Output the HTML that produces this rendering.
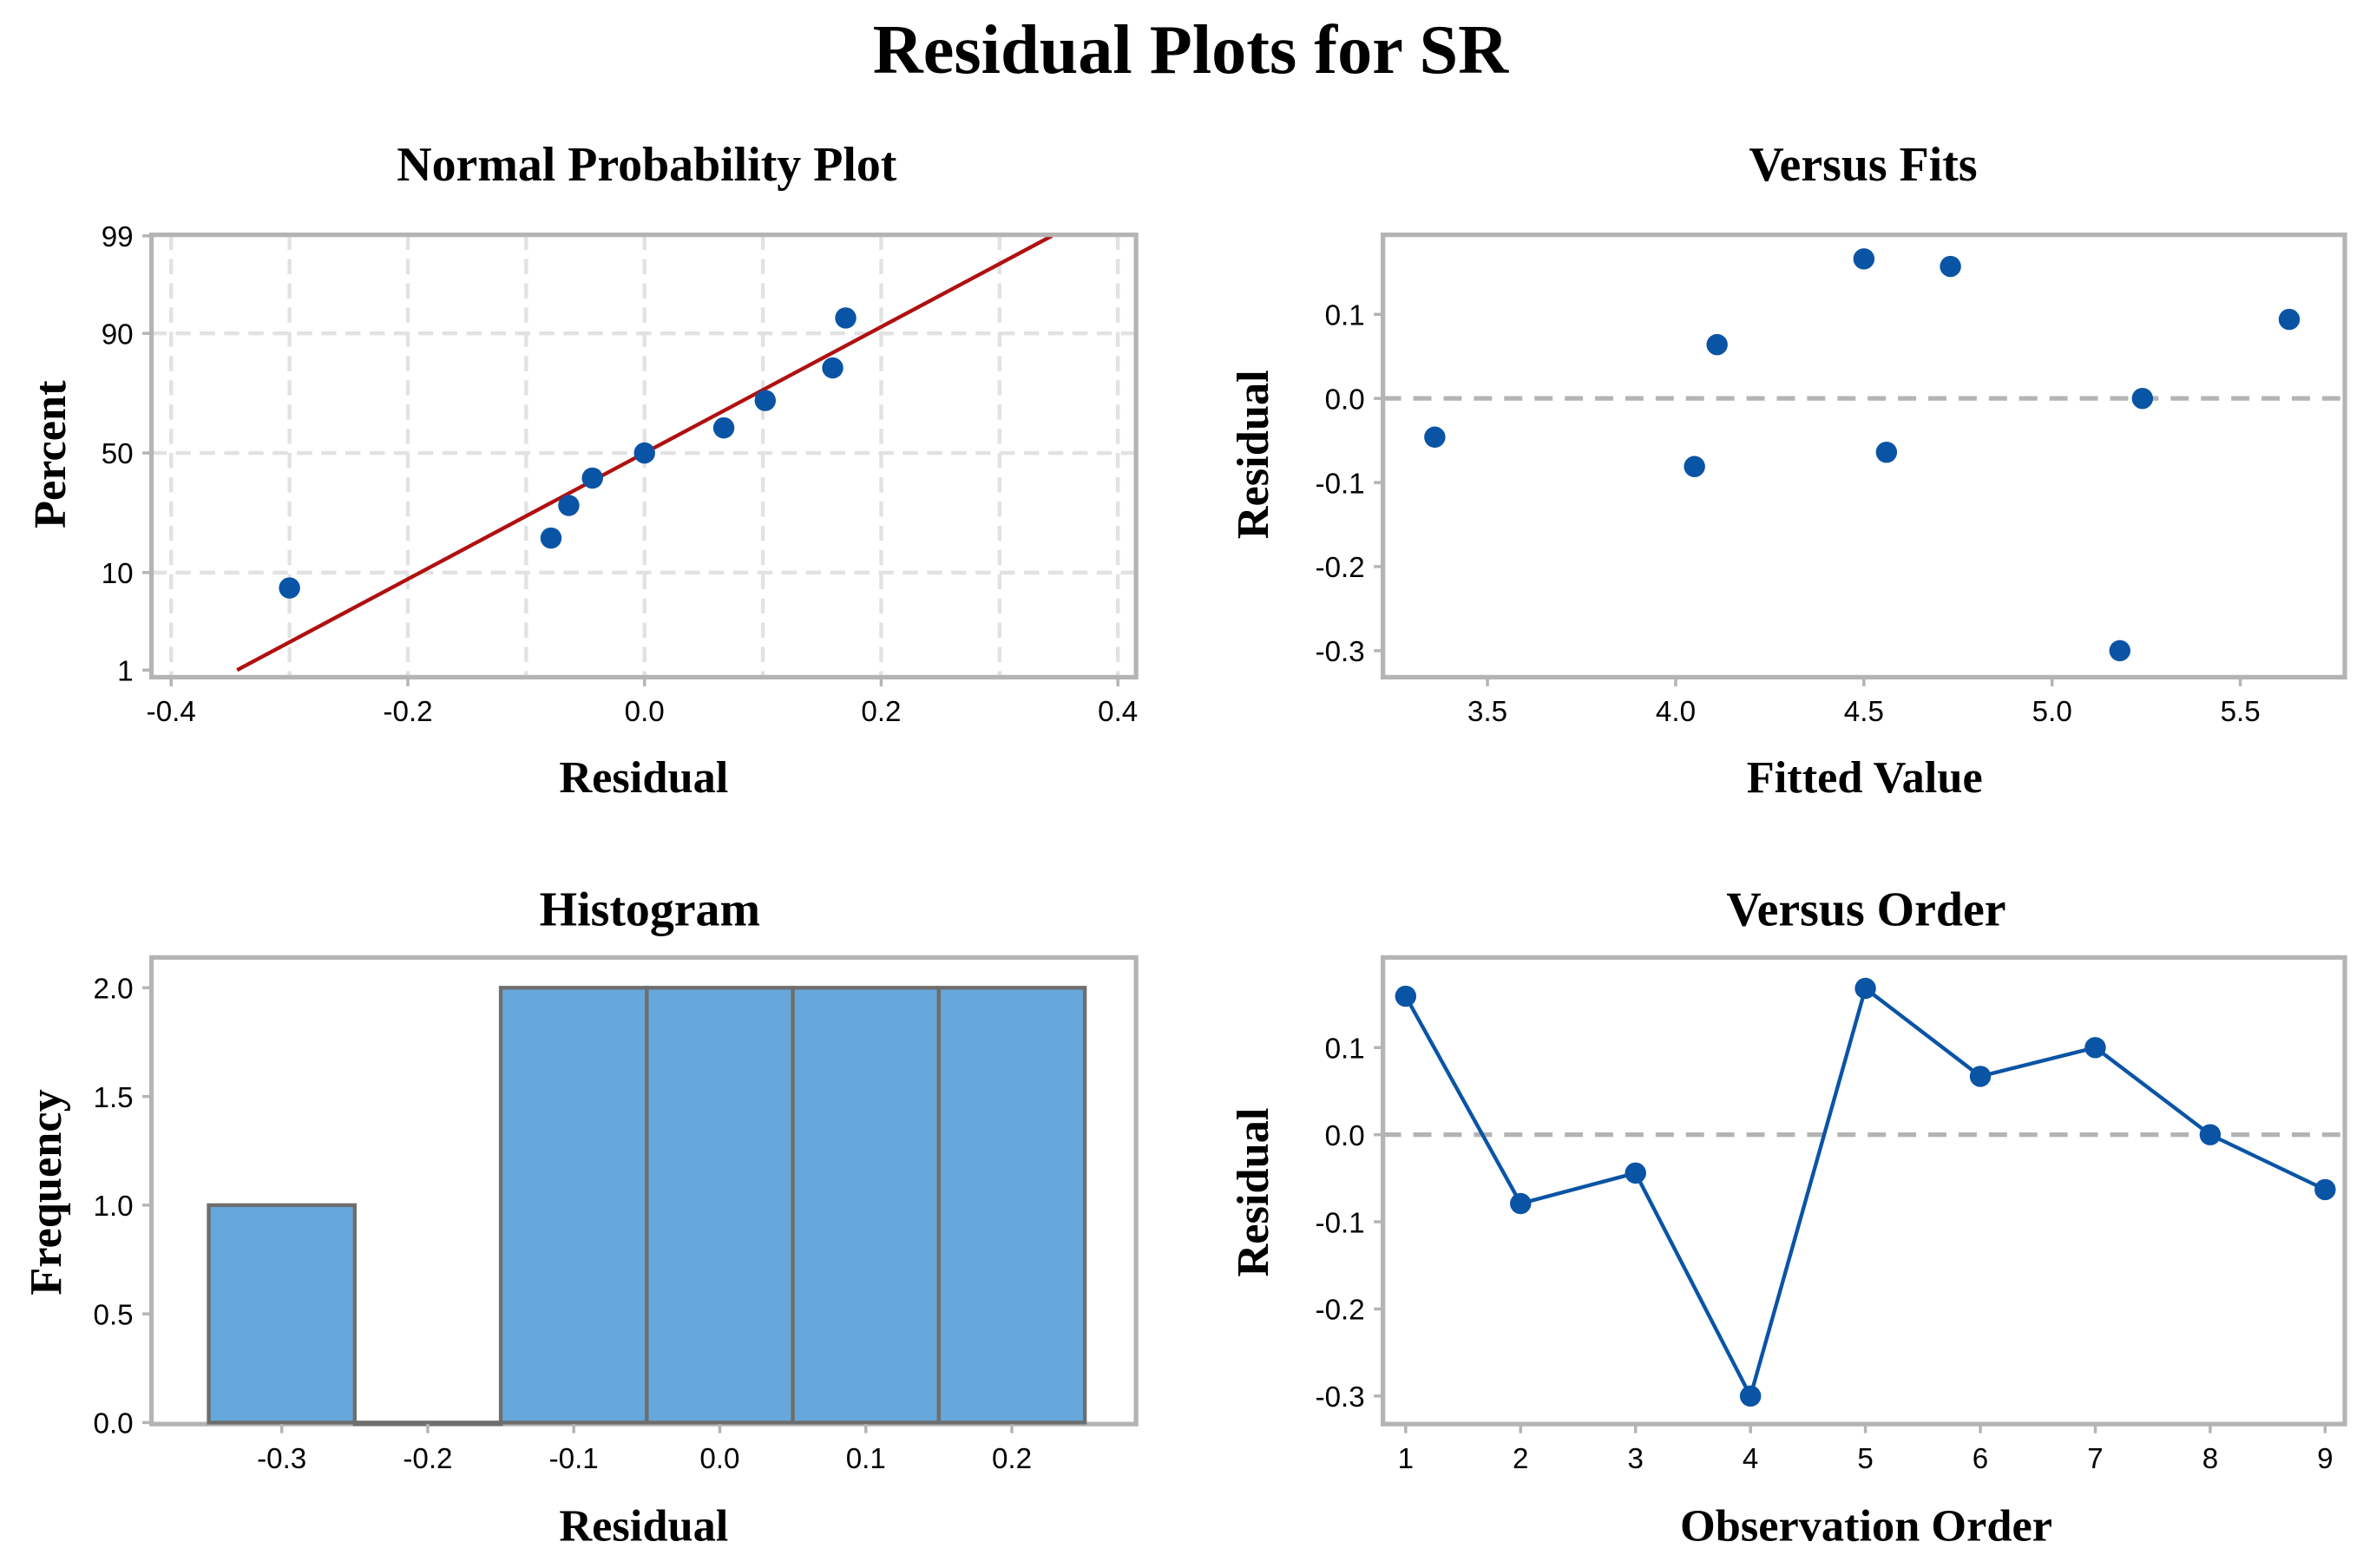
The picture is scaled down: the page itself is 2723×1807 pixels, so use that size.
<!DOCTYPE html>
<html><head><meta charset="utf-8"><style>
html,body{margin:0;padding:0;background:#fff;}
svg{display:block;}
.t{font-family:"Liberation Serif",serif;font-weight:bold;fill:#000;}
.k{font-family:"Liberation Sans",sans-serif;font-size:19px;fill:#000;}
</style></head><body>
<svg id="c" width="2723" height="1807" viewBox="0 0 1560 1035" preserveAspectRatio="none" xmlns="http://www.w3.org/2000/svg">
<text class="t" x="786" y="48" font-size="46" text-anchor="middle">Residual Plots for SR</text>
</svg>
<script>
// ---- data ----
const nppResiduals = [-0.30, -0.079, -0.064, -0.044, 0.0, 0.067, 0.102, 0.159, 0.170];
const nppPercents = [7.4, 18.1, 28.7, 39.4, 50, 60.6, 71.3, 81.9, 92.6];
const nppFitMean = 0.0;
const nppFitSd = 0.148;
const nppXTicks = [-0.4, -0.2, 0.0, 0.2, 0.4];
const nppXGrid = [-0.4, -0.3, -0.2, -0.1, 0.0, 0.1, 0.2, 0.3, 0.4];
const nppYTicks = [1, 10, 50, 90, 99];
const fitsX = [3.36, 4.05, 4.11, 4.50, 4.56, 4.73, 5.18, 5.24, 5.63];
const fitsY = [-0.046, -0.081, 0.064, 0.166, -0.064, 0.157, -0.30, 0.0, 0.094];
const fitsXTicks = [3.5, 4.0, 4.5, 5.0, 5.5];
const residTicks = [0.1, 0.0, -0.1, -0.2, -0.3];
const histBinStarts = [-0.35, -0.25, -0.15, -0.05, 0.05, 0.15];
const histCounts = [1, 0, 2, 2, 2, 2];
const histXTicks = [-0.3, -0.2, -0.1, 0.0, 0.1, 0.2];
const histYTicks = [0.0, 0.5, 1.0, 1.5, 2.0];
const orderX = [1, 2, 3, 4, 5, 6, 7, 8, 9];
const orderY = [0.159, -0.079, -0.044, -0.30, 0.168, 0.067, 0.100, 0.0, -0.063];

const svg = document.getElementById('c');
const NS = 'http://www.w3.org/2000/svg';
function mk(tag, attrs, parent) {
  const e = document.createElementNS(NS, tag);
  for (const k in attrs) e.setAttribute(k, attrs[k]);
  (parent || svg).appendChild(e);
  return e;
}
function txt(x, y, s, cls, extra) {
  const e = mk('text', Object.assign({x: x, y: y, class: cls}, extra || {}));
  e.textContent = s;
  return e;
}
function fmt(v) { return (v < 0 ? '-' : '') + Math.abs(v).toFixed(1); }
function lin(d0, d1, r0, r1) { return v => r0 + (v - d0) * (r1 - r0) / (d1 - d0); }
// inverse normal CDF (Acklam)
function qnorm(p) {
  const a=[-39.69683028665376,220.9460984245205,-275.9285104469687,138.3577518672690,-30.66479806614716,2.506628277459239];
  const b=[-54.47609879822406,161.5858368580409,-155.6989798598866,66.80131188771972,-13.28068155288572];
  const c=[-0.007784894002430293,-0.3223964580411365,-2.400758277161838,-2.549732539343734,4.374664141464968,2.938163982698783];
  const d=[0.007784695709041462,0.3224671290700398,2.445134137142996,3.754408661907416];
  let q, r;
  if (p < 0.02425) { q = Math.sqrt(-2*Math.log(p)); return (((((c[0]*q+c[1])*q+c[2])*q+c[3])*q+c[4])*q+c[5])/((((d[0]*q+d[1])*q+d[2])*q+d[3])*q+1); }
  if (p > 1-0.02425) { q = Math.sqrt(-2*Math.log(1-p)); return -(((((c[0]*q+c[1])*q+c[2])*q+c[3])*q+c[4])*q+c[5])/((((d[0]*q+d[1])*q+d[2])*q+d[3])*q+1); }
  q = p-0.5; r = q*q;
  return (((((a[0]*r+a[1])*r+a[2])*r+a[3])*r+a[4])*r+a[5])*q/(((((b[0]*r+b[1])*r+b[2])*r+b[3])*r+b[4])*r+1);
}
function frame(x0, y0, x1, y1, name) {
  const r = mk('rect', {x: x0, y: y0, width: x1-x0, height: y1-y0, fill: 'none', stroke: '#b4b4b4', 'stroke-width': 3});
  
  
}
function xTick(x, y, label, name) {
  mk('line', {x1: x, x2: x, y1: y, y2: y+6, stroke: '#b4b4b4', 'stroke-width': 2});
  const t = txt(x, y+29, label, 'k', {'text-anchor': 'middle'});
  
  
}
function yTick(x, y, label, name) {
  mk('line', {x1: x-6, x2: x, y1: y, y2: y, stroke: '#b4b4b4', 'stroke-width': 2});
  const t = txt(x-12, y+7, label, 'k', {'text-anchor': 'end'});
  
  
}
function title(x, y, s, name) {
  const t = txt(x, y, s, 't', {'font-size': 32, 'text-anchor': 'middle'});
  
  
}
function axTitle(x, y, s, name, rot) {
  const t = txt(x, y, s, 't', {'font-size': 30, 'text-anchor': 'middle'});
  if (rot) t.setAttribute('transform', 'rotate(-90 ' + x + ' ' + y + ')');
  
  
}
function dot(x, y, name) {
  const c = mk('circle', {cx: x, cy: y, r: 7, fill: '#0a54a5'});
  
  
}

// ---- Panel 1: Normal probability plot ----
(function(){
  const L=100,R=750,T=155,B=447;
  const sx = lin(-0.4, 0.4, 113, 738);
  const sz = z => 299 - z*61.6;
  const sy = p => sz(qnorm(p/100));
  nppXGrid.forEach(v => mk('line', {x1: sx(v), x2: sx(v), y1: T, y2: B, stroke: '#e2e2e2', 'stroke-width': 2.5, 'stroke-dasharray': '10,6'}));
  [90, 50, 10].forEach(p => mk('line', {x1: L, x2: R, y1: sy(p), y2: sy(p), stroke: '#e2e2e2', 'stroke-width': 2.5, 'stroke-dasharray': '10,6'}));
  const zl = qnorm(0.01), zh = qnorm(0.99);
  const fl = mk('line', {x1: sx(nppFitMean + zl*nppFitSd), y1: sz(zl), x2: sx(nppFitMean + zh*nppFitSd), y2: sz(zh), stroke: '#b01010', 'stroke-width': 2.5});
  
  
  frame(L, T, R, B, 'npp-plot-frame');
  nppResiduals.forEach((v, i) => dot(sx(v), sy(nppPercents[i]), 'npp-point'));
  nppXTicks.forEach(v => xTick(sx(v), B, fmt(v), 'npp-x-tick'));
  nppYTicks.forEach(p => yTick(L, sy(p), String(p), 'npp-y-tick'));
  title(427, 119, 'Normal Probability Plot', 'npp-title');
  axTitle(425, 523, 'Residual', 'npp-x-axis-title');
  axTitle(43, 300, 'Percent', 'npp-y-axis-title', true);
})();

// ---- Panel 2: Versus fits ----
(function(){
  const L=913,R=1548,T=155,B=447;
  const sx = lin(3.5, 5.5, 982, 1479);
  const sy = lin(0.0, 0.1, 263, 207.5);
  const ref = mk('line', {x1: L, x2: R, y1: sy(0), y2: sy(0), stroke: '#b4b4b4', 'stroke-width': 3, 'stroke-dasharray': '12,8'});
  
  
  frame(L, T, R, B, 'fits-plot-frame');
  fitsX.forEach((v, i) => dot(sx(v), sy(fitsY[i]), 'fits-point'));
  fitsXTicks.forEach(v => xTick(sx(v), B, v.toFixed(1), 'fits-x-tick'));
  residTicks.forEach(v => yTick(L, sy(v), fmt(v), 'fits-y-tick'));
  title(1230, 119, 'Versus Fits', 'fits-title');
  axTitle(1231, 523, 'Fitted Value', 'fits-x-axis-title');
  axTitle(837, 300, 'Residual', 'fits-y-axis-title', true);
})();

// ---- Panel 3: Histogram ----
(function(){
  const L=100,R=750,T=632,B=940;
  const sx = lin(-0.3, 0.2, 186, 668);
  const sy = lin(0, 2, 939, 652);
  frame(L, T, R, B, 'hist-plot-frame');
  histBinStarts.forEach((v, i) => {
    const x0 = sx(v), x1 = sx(v + 0.1), y = sy(histCounts[i]);
    const r = mk('rect', {x: x0, y: y, width: x1-x0, height: Math.max(sy(0)-y, 1), fill: '#66a8dc', stroke: '#6e6e6e', 'stroke-width': 2.5});
    
    
  });
  histXTicks.forEach(v => xTick(sx(v), B, fmt(v), 'hist-x-tick'));
  histYTicks.forEach(v => yTick(L, sy(v), v.toFixed(1), 'hist-y-tick'));
  title(429, 611, 'Histogram', 'hist-title');
  axTitle(425, 1017, 'Residual', 'hist-x-axis-title');
  axTitle(40, 787, 'Frequency', 'hist-y-axis-title', true);
})();

// ---- Panel 4: Versus order ----
(function(){
  const L=913,R=1548,T=632,B=940;
  const sx = lin(1, 9, 928, 1535);
  const sy = lin(0.0, 0.1, 749, 691.5);
  const ref = mk('line', {x1: L, x2: R, y1: sy(0), y2: sy(0), stroke: '#b4b4b4', 'stroke-width': 3, 'stroke-dasharray': '12,8'});
  
  
  frame(L, T, R, B, 'order-plot-frame');
  const pts = orderX.map((v, i) => sx(v) + ',' + sy(orderY[i])).join(' ');
  const pl = mk('polyline', {points: pts, fill: 'none', stroke: '#0a54a5', 'stroke-width': 2.5});
  
  
  orderX.forEach((v, i) => dot(sx(v), sy(orderY[i]), 'order-point'));
  orderX.forEach(v => xTick(sx(v), B, String(v), 'order-x-tick'));
  residTicks.forEach(v => yTick(L, sy(v), fmt(v), 'order-y-tick'));
  title(1232, 611, 'Versus Order', 'order-title');
  axTitle(1232, 1017, 'Observation Order', 'order-x-axis-title');
  axTitle(837, 787, 'Residual', 'order-y-axis-title', true);
})();
</script>
</body></html>
